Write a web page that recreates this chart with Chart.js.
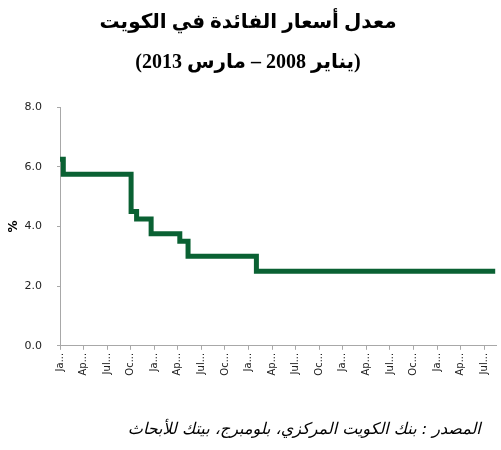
<!DOCTYPE html>
<html><head><meta charset="utf-8">
<script src="https://cdn.jsdelivr.net/npm/chart.js@4/dist/chart.umd.min.js"></script>
<style>html,body{margin:0;padding:0;background:#fff}</style>
</head><body>
<canvas id="c" width="501" height="450"></canvas>
<script>
const titleLines = ['معدل أسعار الفائدة في الكويت', '(يناير 2008 – مارس 2013)'];
const sourceText = 'المصدر : بنك الكويت المركزي، بلومبرج، بيتك للأبحاث';
const yAxisTitle = '%';
// months since Jan 2008 at which each rate starts
const changeMonths = [0, 0.42, 9.05, 9.75, 11.6, 15.25, 16.3, 25.0, 55.4];
const rateValues   = [6.25, 5.75, 4.5, 4.25, 3.75, 3.5, 3.0, 2.5, 2.5];
const tickMonths = [0, 3, 6, 9, 12, 15, 18, 21, 24, 27, 30, 33, 36, 39, 42, 45, 48, 51, 54];
const tickLabels = ['Ja...', 'Ap...', 'Jul...', 'Oc...', 'Ja...', 'Ap...', 'Jul...', 'Oc...', 'Ja...', 'Ap...',
                    'Jul...', 'Oc...', 'Ja...', 'Ap...', 'Jul...', 'Oc...', 'Ja...', 'Ap...', 'Jul...'];
const yMin = 0, yMax = 8, yStep = 2;
const xMax = 55.5;

const axisGrey = '#a8a8a8';
const points = changeMonths.map((m, i) => ({ x: m, y: rateValues[i] }));

new Chart(document.getElementById('c'), {
  type: 'line',
  data: { datasets: [{
    data: points,
    stepped: 'before',
    borderColor: '#0a6133',
    borderWidth: 5,
    pointRadius: 0,
    fill: false,
    borderJoinStyle: 'miter',
    borderCapStyle: 'butt'
  }]},
  options: {
    responsive: false,
    animation: false,
    layout: { padding: { left: 0, right: 5, top: 0, bottom: 0 } },
    plugins: {
      legend: { display: false },
      tooltip: { enabled: false },
      title: {
        display: true,
        text: titleLines,
        color: '#000',
        font: { family: "'Liberation Serif', 'DejaVu Sans', serif", size: 20, weight: 'bold', lineHeight: 2 },
        padding: { top: 3, bottom: 24 }
      },
      subtitle: {
        display: true,
        position: 'bottom',
        align: 'end',
        text: sourceText + '\u00A0\u00A0\u00A0',
        color: '#000',
        font: { family: "'DejaVu Sans', sans-serif", size: 16, style: 'italic', lineHeight: 1.2 },
        padding: { top: 29, bottom: 11 }
      }
    },
    scales: {
      x: {
        type: 'linear',
        min: 0,
        max: xMax,
        afterBuildTicks: (s) => { s.ticks = tickMonths.map(v => ({ value: v })); },
        afterFit: (s) => { s.height = 45; },
        ticks: {
          autoSkip: false,
          minRotation: 90,
          maxRotation: 90,
          padding: 3,
          color: '#222',
          font: { family: "'DejaVu Sans', sans-serif", size: 10 },
          callback: (v, i) => tickLabels[i]
        },
        grid: { drawOnChartArea: false, drawTicks: true, tickLength: 4, color: axisGrey },
        border: { color: axisGrey, width: 1 }
      },
      y: {
        min: yMin,
        max: yMax,
        afterFit: (s) => { s.width = 60; },
        ticks: {
          stepSize: yStep,
          color: '#222',
          padding: 15,
          font: { family: "'DejaVu Sans', sans-serif", size: 11 },
          callback: (v) => Number(v).toFixed(1)
        },
        title: {
          display: true,
          text: yAxisTitle,
          color: '#000',
          font: { family: "'DejaVu Sans', sans-serif", size: 12, weight: 'bold' },
          padding: { top: 7, bottom: 4 }
        },
        grid: { drawOnChartArea: false, drawTicks: true, tickLength: 3, color: axisGrey },
        border: { color: axisGrey, width: 1 }
      }
    }
  }
});
</script>
</body></html>
